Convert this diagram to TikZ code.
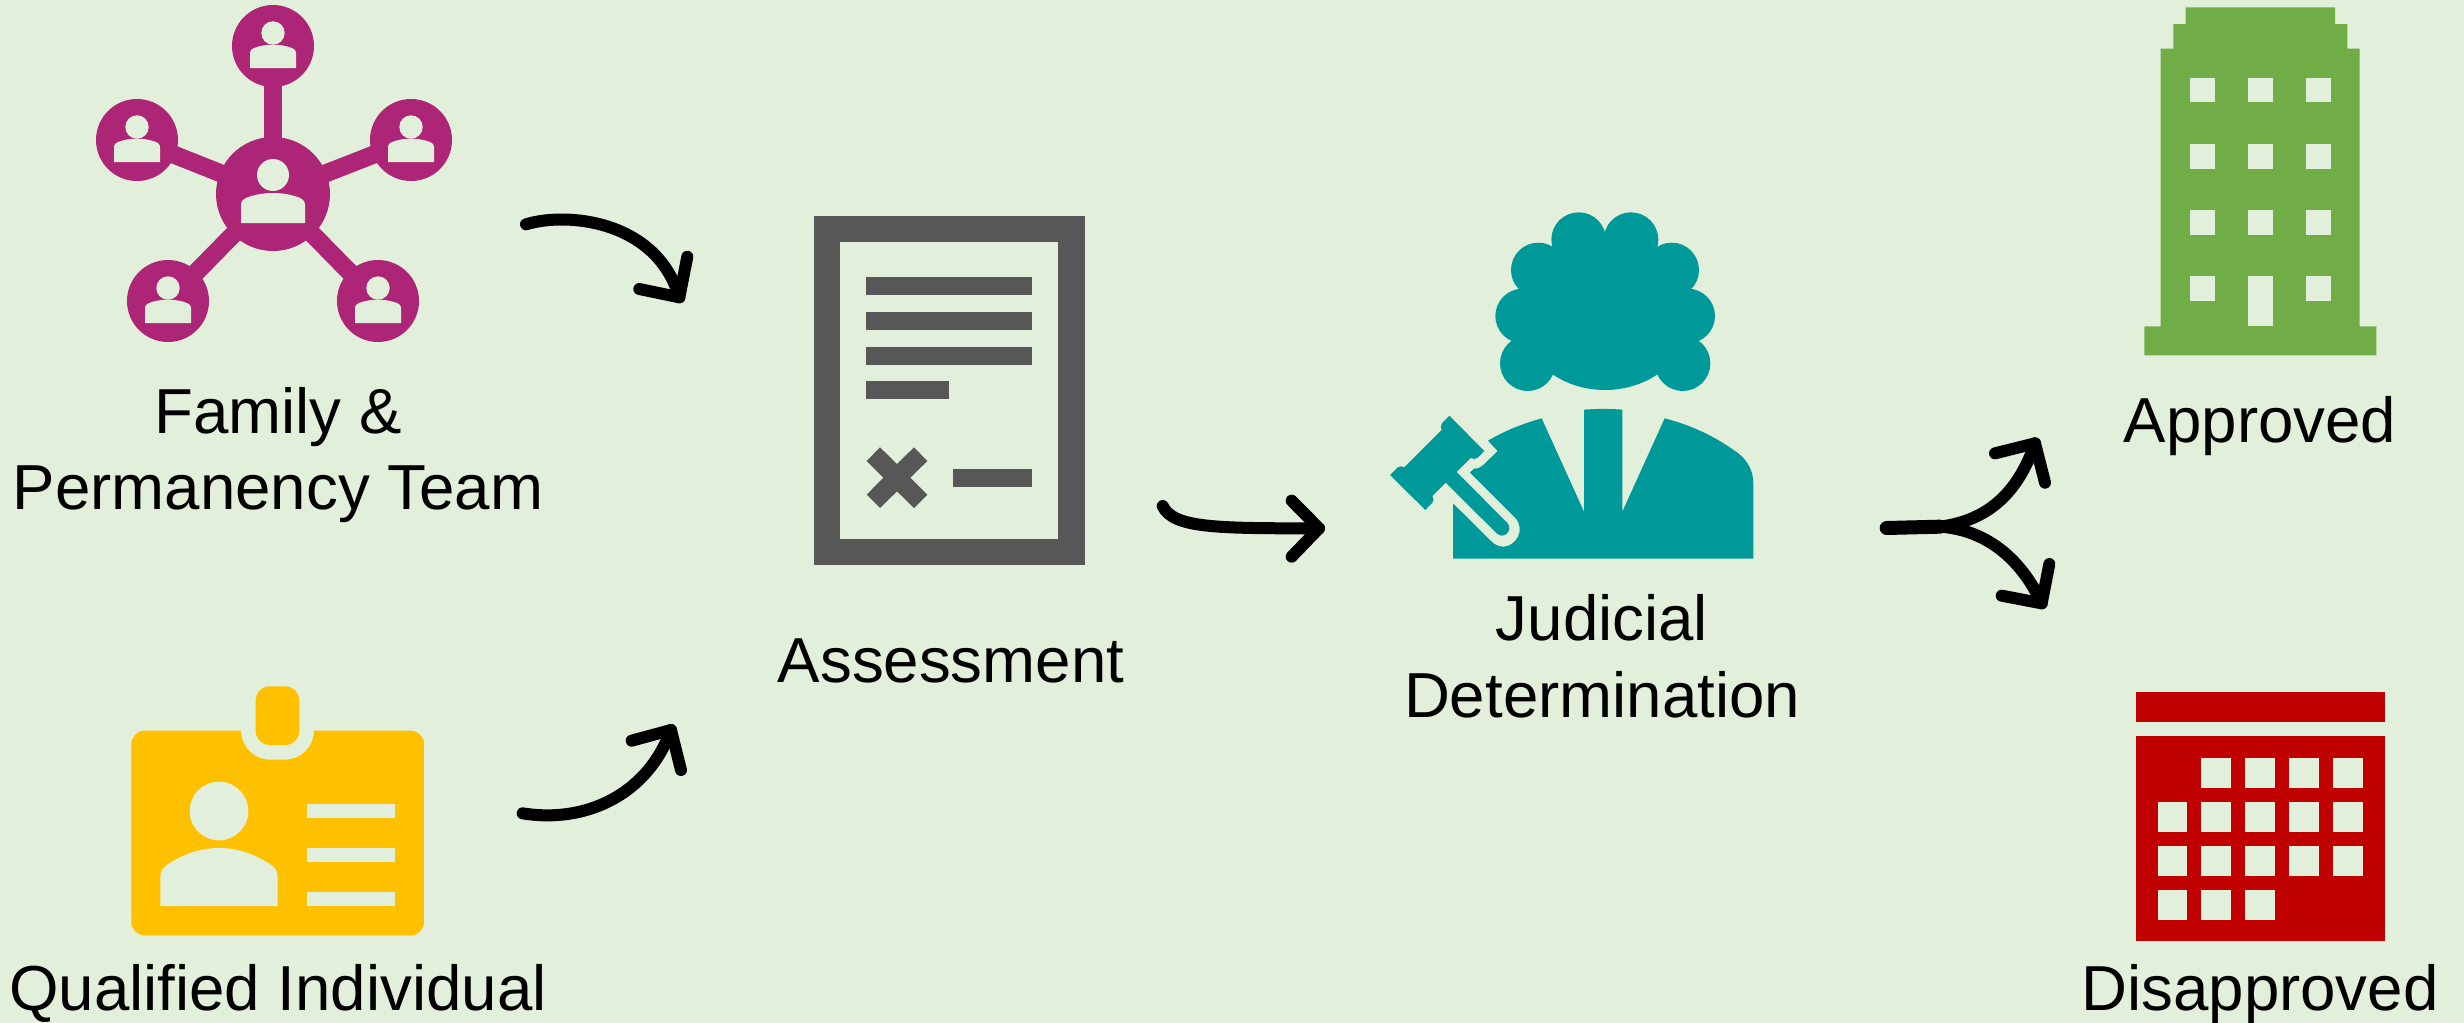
\documentclass[tikz,border=0pt]{standalone}
\usepackage{fontspec}
\setmainfont{Liberation Sans}
\definecolor{bgc}{HTML}{E2EFDA}
\definecolor{magc}{HTML}{AD2576}
\definecolor{tealc}{HTML}{009999}
\definecolor{goldc}{HTML}{FFC000}
\definecolor{greenc}{HTML}{70AD47}
\definecolor{redc}{HTML}{C00000}
\definecolor{grayc}{HTML}{575757}
\tikzset{
  lbl/.style={anchor=base,inner sep=0pt,font=\fontsize{31.8pt}{36pt}\selectfont,text=black},
  arrowline/.style={draw=black,line width=6pt,line cap=round,line join=round},
  cut/.style={fill=bgc,draw=none},
  spoke/.style={draw=magc,line width=9pt}
}
% person cut-out: centre x, centre y of the circle, scale
\newcommand{\personcut}[3]{%
  \begin{scope}[shift={(#1,#2)},scale=#3]
    \fill[cut] (0,-13) circle (11.7);
    \fill[cut] (-23,22) -- (-23,7.5) .. controls (-23,4) and (-21,3) .. (-19,2) .. controls (-7,-2.5) and (7,-2.5) .. (19,2) .. controls (21,3) and (23,4) .. (23,7.5) -- (23,22) -- cycle;
  \end{scope}}
\begin{document}
\begin{tikzpicture}[x=0.5pt,y=-0.5pt]
\useasboundingbox (0,0) rectangle (2464,1023);
\fill[bgc] (0,0) rectangle (2464,1023);

% family network
\coordinate (hub) at (273,194);
\coordinate (n1) at (273,46);
\coordinate (n2) at (137,140);
\coordinate (n3) at (411,140);
\coordinate (n4) at (168,301);
\coordinate (n5) at (378,301);
\foreach \n in {n1,n2,n3,n4,n5}{\draw[spoke] (hub) -- (\n);}
\fill[magc] (hub) circle (57);
\foreach \n in {n1,n2,n3,n4,n5}{\fill[magc] (\n) circle (41);}
\personcut{273}{46}{1}
\personcut{137}{140}{1}
\personcut{411}{140}{1}
\personcut{168}{301}{1}
\personcut{378}{301}{1}
\begin{scope}[shift={(273,194)}]
  \fill[cut] (0,-19) circle (16);
  \fill[cut] (-32,29) -- (-32,11) .. controls (-32,7) and (-30,5.5) .. (-26,3.5) .. controls (-10,-2.5) and (10,-2.5) .. (26,3.5) .. controls (30,5.5) and (32,7) .. (32,11) -- (32,29) -- cycle;
\end{scope}

% ID card
\begin{scope}[shift={(100,660)},scale=1/3]
  \fill[goldc] (134,212) -- (423,212) .. controls (423,260) and (462,299) .. (510,299) -- (555,299) .. controls (603,299) and (642,260) .. (642,212) -- (932,212) .. controls (954,212) and (972,230) .. (972,252) -- (972,786) .. controls (972,808) and (954,826) .. (932,826) -- (134,826) .. controls (112,826) and (94,808) .. (94,786) -- (94,252) .. controls (94,230) and (112,212) .. (134,212) -- cycle;
  \fill[goldc] (510,79) -- (555,79) .. controls (579,79) and (598,98) .. (598,122) -- (598,212) .. controls (598,236) and (579,255) .. (555,255) -- (510,255) .. controls (486,255) and (467,236) .. (467,212) -- (467,122) .. controls (467,98) and (486,79) .. (510,79) -- cycle;
  \fill[cut] (357,453) circle (88);
  \fill[cut] (181,738) -- (181,650) .. controls (181,632) and (190,622) .. (200,615) .. controls (300,547) and (414,547) .. (514,615) .. controls (524,622) and (533,632) .. (533,650) -- (533,738) -- cycle;
  \fill[cut] (621,431) rectangle (885,475);
  \fill[cut] (621,563) rectangle (885,607);
  \fill[cut] (621,695) rectangle (885,739);
\end{scope}

% assessment document
\begin{scope}[shift={(780,200)},scale=1/3]
  \fill[grayc] (103,48) rectangle (914,1094);
  \fill[cut] (180,126) rectangle (835,1016);
  \fill[grayc] (258,231) rectangle (756,285);
  \fill[grayc] (258,336) rectangle (756,390);
  \fill[grayc] (258,441) rectangle (756,495);
  \fill[grayc] (258,543) rectangle (507,597);
  \fill[grayc] (519,807) rectangle (756,861);
  \fill[grayc] (300,742) -- (351,792) -- (402,742) -- (442,783) -- (391,833) -- (442,884) -- (402,924) -- (351,874) -- (300,924) -- (260,884) -- (310,833) -- (260,783) -- cycle;
\end{scope}

% judge
\begin{scope}[shift={(1350,190)},scale=1/3]
  \fill[tealc] (765,370) ellipse (260 and 230);
  \fill[tealc] (686,149) circle (82);
  \fill[tealc] (843,149) circle (82);
  \fill[tealc] (565,240) circle (82);
  \fill[tealc] (965,240) circle (82);
  \fill[tealc] (518,378) circle (82);
  \fill[tealc] (1013,378) circle (82);
  \fill[tealc] (533,520) circle (83);
  \fill[tealc] (998,520) circle (83);
  \fill[tealc] (309,1106) -- (1210,1106) -- (1210,880) .. controls (1210,840) and (1190,810) .. (1165,790) .. controls (1090,735) and (1020,705) .. (944,685) -- (817,965) -- (817,659) .. controls (780,656) and (740,656) .. (702,659) -- (702,965) -- (575,685) .. controls (515,702) and (465,722) .. (414,752) -- (443,783) -- (400,825) .. controls (392,832) and (384,836) .. (372,836) -- (360,848) -- (497,985) .. controls (528,1022) and (495,1070) .. (460,1070) .. controls (445,1070) and (433,1063) .. (425,1055) -- (309,940) -- cycle;
  \fill[tealc] (298,677) -- (403,783) -- (383,803) .. controls (376,808) and (368,808) .. (362,804) -- (320,846) -- (473,1000) .. controls (490,1022) and (460,1050) .. (440,1030) -- (287,878) -- (247,918) .. controls (252,925) and (252,932) .. (247,938) -- (226,960) -- (120,855) -- (143,832) .. controls (150,828) and (157,828) .. (163,832) -- (275,720) .. controls (271,713) and (272,705) .. (277,698) -- cycle;
\end{scope}

% building
\begin{scope}[shift={(2100,0)},scale=1/3]
  \fill[greenc] (133,1066) -- (829,1066) -- (829,979) -- (779,979) -- (779,146) -- (742,146) -- (742,72) -- (705,72) -- (705,22) -- (257,22) -- (257,72) -- (220,72) -- (220,146) -- (182,146) -- (182,979) -- (133,979) -- cycle;
  \foreach \wx in {270,444,618}{\foreach \wy in {233,432,631,829}{
    \fill[cut] (\wx,\wy) rectangle ++(74,74);}}
  \fill[cut] (444,829) rectangle (518,979);
\end{scope}

% calendar
\begin{scope}[shift={(2100,670)},scale=1/3]
  \fill[redc] (108,66) rectangle (855,155);
  \fill[redc] (107,199) rectangle (854,814);
  \foreach \wx/\wy in {304/265,436/265,568/265,700/265,
                       173/397,304/397,436/397,568/397,700/397,
                       173/529,304/529,436/529,568/529,700/529,
                       173/661,304/661,436/661}{
    \fill[cut] (\wx,\wy) rectangle ++(88,88);}
\end{scope}

% labels
\node[lbl] (lfam1) at (278,433) {Family \&};
\node[lbl] (lfam2) at (278,509) {Permanency Team};
\node[lbl] (lqual) at (278,1010) {Qualified Individual};
\node[lbl] (lass) at (951,682) {Assessment};
\node[lbl] (ljud1) at (1602,640) {Judicial};
\node[lbl] (ljud2) at (1602,717) {Determination};
\node[lbl] (lapp) at (2260,442) {Approved};
\node[lbl] (ldis) at (2260,1010) {Disapproved};

% arrows
\begin{scope}[shift={(500,190)},scale=1/3]
  \coordinate (a1s) at (78,103); \coordinate (a1e) at (538,322);
  \coordinate (a1l) at (418,297); \coordinate (a1r) at (562,200);
  \coordinate (a1p) at (200,65); \coordinate (a1q) at (470,90);
\end{scope}
\draw[arrowline] (a1s) .. controls (a1p) and (a1q) .. (a1e);
\draw[arrowline] (a1l) -- (a1e) -- (a1r);

\begin{scope}[shift={(500,700)},scale=1/3]
  \coordinate (a2s) at (68,340); \coordinate (a2e) at (513,90);
  \coordinate (a2l) at (395,122); \coordinate (a2r) at (543,210);
  \coordinate (a2p) at (250,370); \coordinate (a2q) at (440,290);
\end{scope}
\draw[arrowline] (a2s) .. controls (a2p) and (a2q) .. (a2e);
\draw[arrowline] (a2l) -- (a2e) -- (a2r);

\begin{scope}[shift={(1140,480)},scale=1/3]
  \coordinate (a3s) at (68,78); \coordinate (a3e) at (537,145);
  \coordinate (a3l) at (455,62); \coordinate (a3r) at (455,230);
  \coordinate (a3p) at (100,145); \coordinate (a3q) at (230,145);
\end{scope}
\draw[arrowline] (a3s) .. controls (a3p) and (a3q) .. (a3e);
\draw[arrowline] (a3l) -- (a3e) -- (a3r);

\begin{scope}[shift={(1860,420)},scale=1/3]
  \coordinate (a4s) at (80,324); \coordinate (a4m) at (240,320);
  \coordinate (a4e) at (525,70); \coordinate (a4l) at (405,100); \coordinate (a4r) at (555,188);
  \coordinate (a4p) at (400,300); \coordinate (a4q) at (480,200);
  \coordinate (a5e) at (545,550); \coordinate (a5l) at (425,527); \coordinate (a5r) at (568,432);
  \coordinate (a5p) at (390,330); \coordinate (a5q) at (490,430);
\end{scope}
\draw[arrowline,line width=7pt] (a4s) -- (a4m);
\draw[arrowline] (a4m) .. controls (a4p) and (a4q) .. (a4e);
\draw[arrowline] (a4l) -- (a4e) -- (a4r);
\draw[arrowline] (a4m) .. controls (a5p) and (a5q) .. (a5e);
\draw[arrowline] (a5l) -- (a5e) -- (a5r);
\end{tikzpicture}
\end{document}
